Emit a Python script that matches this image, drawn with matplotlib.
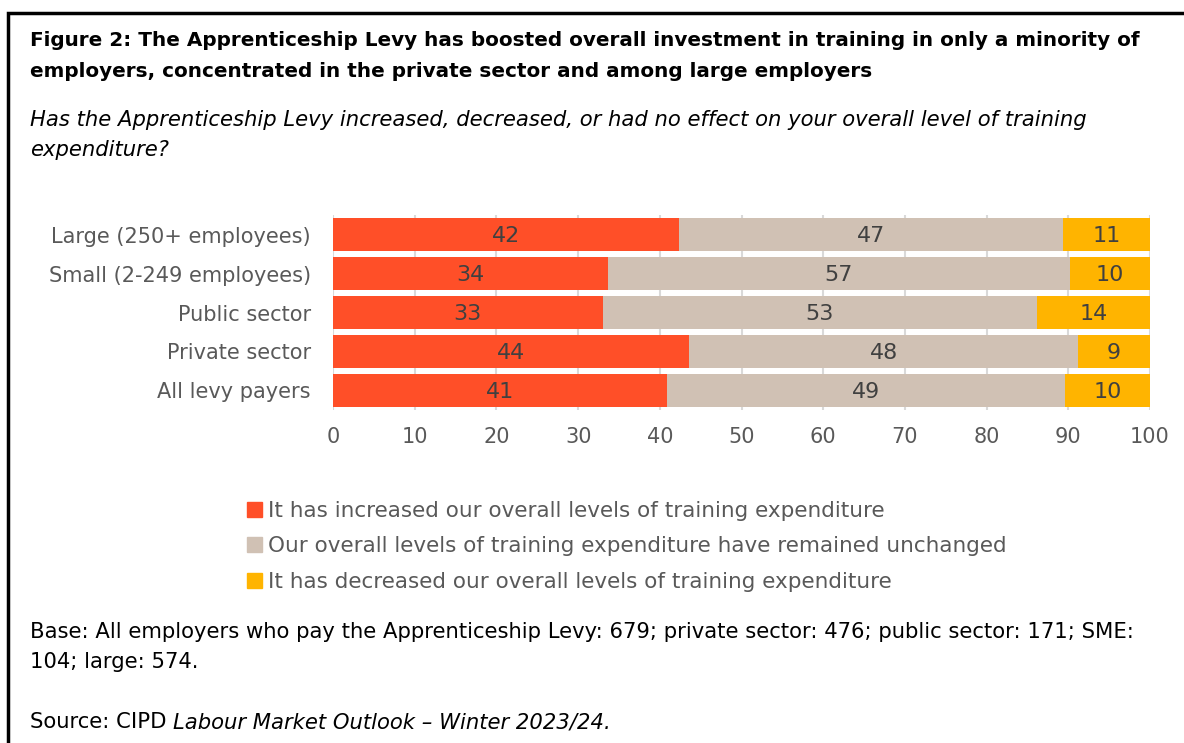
import matplotlib.pyplot as plt
import matplotlib.patches as mpatches

categories = ['Large (250+ employees)', 'Small (2-249 employees)', 'Public sector',
              'Private sector', 'All levy payers']
increased = [42.4, 33.6, 33.0, 43.6, 40.9]
unchanged = [46.9, 56.6, 53.2, 47.6, 48.7]
decreased = [10.7, 9.8, 13.8, 8.8, 10.4]
series_names = ['It has increased our overall levels of training expenditure',
                'Our overall levels of training expenditure have remained unchanged',
                'It has decreased our overall levels of training expenditure']
colors = ['#FF4F28', '#D0C1B4', '#FFB400']

plt.rcParams['font.family'] = ['DejaVu Sans']

fig = plt.figure(figsize=(11.84, 7.43), dpi=100)
ax = fig.add_axes([0.2813, 0.4482, 0.6900, 0.2624])

y = list(range(len(categories)))
left = [0] * len(categories)
for vals, col in zip([increased, unchanged, decreased], colors):
    bars = ax.barh(y, vals, left=left, height=0.85, color=col, zorder=3)
    for b, v in zip(bars, vals):
        ax.text(b.get_x() + b.get_width() / 2, b.get_y() + b.get_height() / 2 + 0.03,
                str(round(v)), ha='center', va='center', fontsize=16,
                color='#404040', zorder=4)
    left = [l + v for l, v in zip(left, vals)]

ax.set_xlim(0, 100)
ax.set_ylim(len(categories) - 0.5, -0.5)
ax.set_xticks(range(0, 101, 10))
ax.set_yticks(y)
ax.set_yticklabels(categories)
ax.tick_params(axis='both', length=0, labelsize=15, colors='#595959')
ax.tick_params(axis='x', pad=12)
ax.tick_params(axis='y', pad=16)
ax.grid(axis='x', color='#D9D9D9', linewidth=1.5, zorder=0)
for s in ax.spines.values():
    s.set_visible(False)

handles = [mpatches.Patch(color=c, label=n) for c, n in zip(colors, series_names)]
fig.legend(handles=handles, loc='upper left', bbox_to_anchor=(0.192, 0.352),
           frameon=False, fontsize=15.5, handlelength=0.7, handleheight=0.7,
           handletextpad=0.3, labelspacing=0.72, labelcolor='#595959')

fig.text(30 / 1184, 1 - 56 / 743,
         'Figure 2: The Apprenticeship Levy has boosted overall investment in training in only a minority of\n'
         'employers, concentrated in the private sector and among large employers',
         fontsize=14.4, fontweight='bold', va='center', ha='left', linespacing=1.75)
fig.text(30 / 1184, 1 - 135 / 743,
         'Has the Apprenticeship Levy increased, decreased, or had no effect on your overall level of training\n'
         'expenditure?',
         fontsize=15.2, style='italic', va='center', ha='left', linespacing=1.6)
fig.text(30 / 1184, 1 - 647 / 743,
         'Base: All employers who pay the Apprenticeship Levy: 679; private sector: 476; public sector: 171; SME:\n'
         '104; large: 574.',
         fontsize=15.2, va='center', ha='left', linespacing=1.65)
src = fig.text(30 / 1184, 1 - 728 / 743, 'Source: CIPD ', fontsize=15.2, va='baseline', ha='left')
ax.annotate('Labour Market Outlook \u2013 Winter 2023/24.', xy=(1, 0), xycoords=src,
            fontsize=15.2, style='italic', va='bottom', ha='left', annotation_clip=False)

fig.add_artist(mpatches.Rectangle((8 / 1184, -0.1), 1.2, 1 - 13 / 743 + 0.1,
                                  transform=fig.transFigure, fill=False,
                                  edgecolor='black', linewidth=2.5))

fig.savefig('out.png', dpi=100)
